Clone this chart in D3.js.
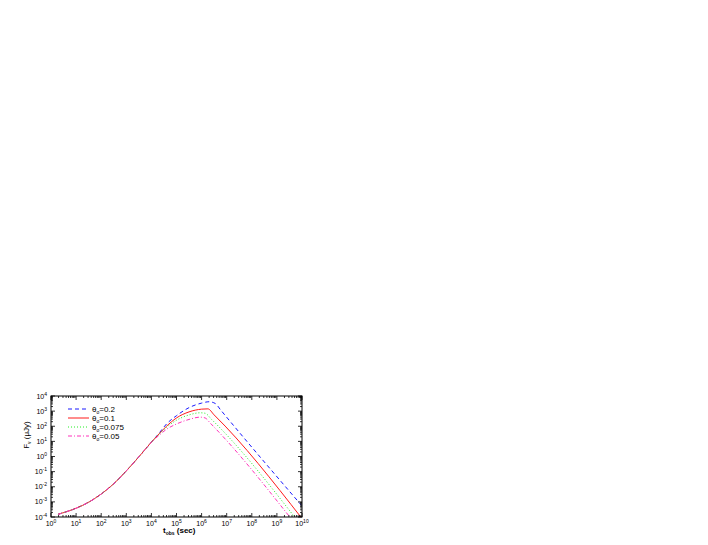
<!DOCTYPE html>
<html><head><meta charset="utf-8">
<script src="https://cdn.jsdelivr.net/npm/d3@7"></script>
<style>body{margin:0;background:#fff}svg{display:block}text{font-family:"Liberation Sans",Arial,sans-serif}</style>
</head><body><svg id="c" width="708" height="545"></svg>
<script>
// tick exponents
const xTickExps = [0,1,2,3,4,5,6,7,8,9,10];
const yTickExps = [-4,-3,-2,-1,0,1,2,3,4];
// series labels
const seriesNames = ["0.2","0.1","0.075","0.05"];
// shared early rise (t in sec, F in microJy)
const riseT = [1.9, 4, 10, 31.6, 100, 316, 1000, 3162, 1.0e4];
const riseF = [1.5e-4, 2.2e-4, 3.8e-4, 9.5e-4, 3.3e-3, 0.0158, 0.112, 0.95, 8.9];
// per-series continuation
const tA = [2.0e4, 4.0e4, 1.0e5, 3.16e5, 1.0e6, 2.0e6, 3.55e6, 5.6e6, 1.0e10];
const fA = [34, 141, 500, 1700, 3390, 4170, 3160, 1260, 5.4e-4];
const tB = [2.0e4, 4.0e4, 1.0e5, 3.16e5, 1.0e6, 1.78e6, 3.16e6, 1.0e10];
const fB = [31, 100, 355, 890, 1350, 1410, 562, 7.9e-5];
const tC = [2.0e4, 4.0e4, 1.0e5, 3.16e5, 8.7e5, 1.38e6, 2.5e6, 6.3e9];
const fC = [29, 85, 250, 560, 776, 724, 282, 6.3e-5];
const tD = [2.0e4, 4.0e4, 1.0e5, 3.16e5, 8.7e5, 1.38e6, 2.24e6, 3.16e9];
const fD = [25, 63, 141, 282, 400, 355, 158, 1.07e-4];

const svg = d3.select("#c");
const L = 51, R = 302, T = 396, B = 517;
const x = d3.scaleLog().domain([1, 1e10]).range([L, R]);
const y = d3.scaleLog().domain([1e-4, 1e4]).range([B, T]);

const mk = (tArr, fArr) => riseT.map((t,i)=>[t, riseF[i]]).concat(tArr.map((t,i)=>[t, fArr[i]]));
const series = [
  {name: seriesNames[0], pts: mk(tA, fA), color: "#1a1aff", dash: "4,3"},
  {name: seriesNames[1], pts: mk(tB, fB), color: "#ff1a1a", dash: null},
  {name: seriesNames[2], pts: mk(tC, fC), color: "#22ee22", dash: "1,2"},
  {name: seriesNames[3], pts: mk(tD, fD), color: "#ff33bb", dash: "4,2,1,2"}
];

svg.append("defs").append("clipPath").attr("id","clp").append("rect")
  .attr("x", L).attr("y", T).attr("width", R-L).attr("height", B-T);

const line = d3.line().x(d=>x(d[0])).y(d=>y(d[1])).curve(d3.curveMonotoneX);
const g = svg.append("g").attr("clip-path","url(#clp)");
series.forEach(s => {
  g.append("path").attr("d", line(s.pts)).attr("fill","none")
    .attr("stroke", s.color).attr("stroke-width", 1)
    .attr("stroke-dasharray", s.dash);
});

// frame
svg.append("rect").attr("x",L).attr("y",T).attr("width",R-L).attr("height",B-T)
  .attr("fill","none").attr("stroke","#000").attr("stroke-width",1);

// ticks
const ax = svg.append("g").attr("stroke","#000").attr("stroke-width",0.8);
xTickExps.forEach((e,i) => {
  const v = Math.pow(10,e), px = x(v);
  ax.append("line").attr("x1",px).attr("x2",px).attr("y1",B).attr("y2",B-4);
  ax.append("line").attr("x1",px).attr("x2",px).attr("y1",T).attr("y2",T+4);
  if (i < xTickExps.length-1) for (let k=2;k<=9;k++){
    const m = x(k*v);
    ax.append("line").attr("x1",m).attr("x2",m).attr("y1",B).attr("y2",B-2);
    ax.append("line").attr("x1",m).attr("x2",m).attr("y1",T).attr("y2",T+2);
  }
});
yTickExps.forEach((e,i) => {
  const v = Math.pow(10,e), py = y(v);
  ax.append("line").attr("x1",L).attr("x2",L+4).attr("y1",py).attr("y2",py);
  ax.append("line").attr("x1",R).attr("x2",R-4).attr("y1",py).attr("y2",py);
  if (i < yTickExps.length-1) for (let k=2;k<=9;k++){
    const m = y(k*v);
    ax.append("line").attr("x1",L).attr("x2",L+2).attr("y1",m).attr("y2",m);
    ax.append("line").attr("x1",R).attr("x2",R-2).attr("y1",m).attr("y2",m);
  }
});

// tick labels
const lab = svg.append("g").attr("font-size", 7).attr("fill","#000");
xTickExps.forEach(e => {
  const t = lab.append("text").attr("x", x(Math.pow(10,e))).attr("y", B+9).attr("text-anchor","middle");
  t.append("tspan").text("10");
  t.append("tspan").attr("dy",-3).attr("font-size",5).text(e);
});
yTickExps.forEach(e => {
  const t = lab.append("text").attr("x", L-4).attr("y", y(Math.pow(10,e))+2.5).attr("text-anchor","end");
  t.append("tspan").text("10");
  t.append("tspan").attr("dy",-3).attr("font-size",5).text(e);
});

// axis titles
const xt = svg.append("text").attr("x",163).attr("y",533).attr("font-size",8).attr("font-weight","bold");
xt.append("tspan").text("t");
xt.append("tspan").attr("dy",2).attr("font-size",5).text("obs");
xt.append("tspan").attr("dy",-2).text(" (sec)");
const yt = svg.append("text").attr("transform","translate(29,435) rotate(-90)").attr("text-anchor","middle").attr("font-size",8);
yt.append("tspan").text("F");
yt.append("tspan").attr("dy",2).attr("font-size",5).text("ν");
yt.append("tspan").attr("dy",-2).text(" (μJy)");

// legend
const legY = [409, 418, 427, 436];
series.forEach((s,i) => {
  svg.append("line").attr("x1",68).attr("x2",89).attr("y1",legY[i]).attr("y2",legY[i])
    .attr("stroke",s.color).attr("stroke-width",1).attr("stroke-dasharray",s.dash);
  const t = svg.append("text").attr("x",92).attr("y",legY[i]+2.5).attr("font-size",8);
  t.append("tspan").text("θ");
  t.append("tspan").attr("dy",2).attr("font-size",5).text("o");
  t.append("tspan").attr("dy",-2).text("=" + s.name);
});
</script></body></html>
